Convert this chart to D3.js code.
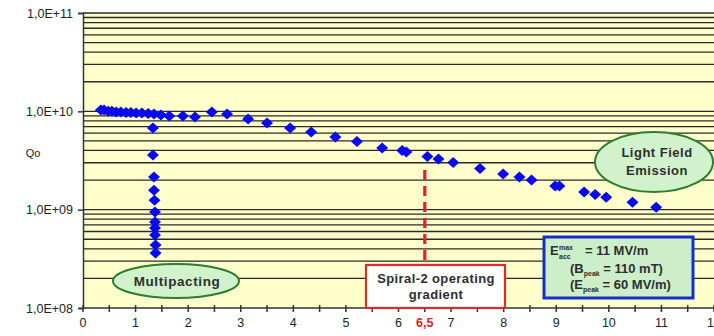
<!DOCTYPE html>
<html>
<head>
<meta charset="utf-8">
<script src="https://cdn.jsdelivr.net/npm/d3@7/dist/d3.min.js"></script>
<style>
  html, body { margin: 0; padding: 0; background: #ffffff; }
  svg { display: block; font-family: "Liberation Sans", Arial, sans-serif; }
</style>
</head>
<body>
<svg id="chart" width="714" height="336"></svg>
<script>
// Accelerating field (MV/m) and quality factor Qo of the cavity test
const fieldMain = [0.34, 0.40, 0.48, 0.55, 0.63, 0.72, 0.82, 0.91, 1.01, 1.12, 1.24, 1.35, 1.48, 1.64,
  1.90, 2.13, 2.45, 2.74, 3.14, 3.50, 3.94, 4.34, 4.80, 5.21, 5.69, 6.07, 6.15, 6.55, 6.76, 7.04,
  7.55, 7.99, 8.30, 8.53, 8.98, 9.06, 9.53, 9.74, 9.95, 10.45, 10.90];
const qoMain = [1.03e10, 1.03e10, 1.0e10, 1.0e10, 9.84e9, 9.84e9, 9.72e9, 9.72e9, 9.61e9, 9.61e9, 9.5e9, 9.39e9, 9.17e9, 8.96e9,
  8.96e9, 8.75e9, 9.84e9, 9.39e9, 8.35e9, 7.60e9, 6.76e9, 6.15e9, 5.47e9, 4.93e9, 4.23e9, 3.99e9, 3.85e9, 3.47e9, 3.27e9, 3.01e9,
  2.62e9, 2.30e9, 2.15e9, 2.00e9, 1.74e9, 1.74e9, 1.51e9, 1.43e9, 1.34e9, 1.19e9, 1.06e9];

// Multipacting barrier points around 1.35 MV/m
const fieldMP = [1.33, 1.33, 1.35, 1.35, 1.36, 1.37, 1.37, 1.37, 1.37, 1.38, 1.38];
const qoMP = [6.76e9, 3.59e9, 2.15e9, 1.58e9, 1.25e9, 9.46e8, 7.48e8, 6.50e8, 5.52e8, 4.37e8, 3.62e8];

const xTicks = [0, 1, 2, 3, 4, 5, 6, 7, 8, 9, 10, 11, 12];
const yTickLabels = ["1,0E+08", "1,0E+09", "1,0E+10", "1,0E+11"];
const yTicks = [1e8, 1e9, 1e10, 1e11];
const operatingGradient = 6.5;
const operatingLabel = "6,5";

const svg = d3.select("#chart");
const plotLeft = 83, plotRight = 714, plotTop = 13, plotBottom = 308;

const x = d3.scaleLinear().domain([0, 12]).range([plotLeft, plotRight]);
const y = d3.scaleLog().domain([1e8, 1e11]).range([plotBottom, plotTop]);

// plot background
svg.append("rect").attr("x", plotLeft).attr("y", plotTop)
  .attr("width", plotRight - plotLeft).attr("height", plotBottom - plotTop)
  .attr("fill", "#ffffcc");

// horizontal gridlines at every log step
const gridVals = [];
for (let e = 8; e < 11; e++) for (let m = 1; m < 10; m++) gridVals.push(m * Math.pow(10, e));
gridVals.push(1e11);
svg.append("g").selectAll("line").data(gridVals.filter(v => v > 1e8)).join("line")
  .attr("x1", plotLeft).attr("x2", plotRight)
  .attr("y1", d => y(d)).attr("y2", d => y(d))
  .attr("stroke", "#2a2a2a").attr("stroke-width", 1.3);

// y axis
const yAxis = d3.axisLeft(y).tickValues(yTicks)
  .tickFormat((d, i) => yTickLabels[i]).tickSize(5).tickPadding(5);
const gy = svg.append("g").attr("transform", `translate(${plotLeft},0)`).call(yAxis);
gy.select(".domain").attr("stroke", "#333").attr("stroke-width", 1.5);
gy.selectAll(".tick line").attr("stroke", "#333").attr("stroke-width", 1.5);
gy.selectAll(".tick text").attr("font-size", 12.5).attr("fill", "#222")
  .attr("font-family", "Liberation Sans, Arial, sans-serif");

// x axis with half-unit cross ticks
const halfTicks = d3.range(0, 12.01, 0.5);
const gx = svg.append("g");
gx.append("line").attr("x1", plotLeft).attr("x2", plotRight).attr("y1", plotBottom).attr("y2", plotBottom)
  .attr("stroke", "#333").attr("stroke-width", 1.5);
gx.selectAll("line.t").data(halfTicks).join("line").attr("class", "t")
  .attr("x1", d => x(d)).attr("x2", d => x(d))
  .attr("y1", plotBottom - 3).attr("y2", plotBottom + 4)
  .attr("stroke", "#333").attr("stroke-width", 1.5);
gx.selectAll("text").data(xTicks).join("text")
  .attr("x", d => x(d)).attr("y", 327)
  .attr("text-anchor", "middle").attr("font-size", 12.5).attr("fill", "#222")
  .text(d => d);

// y title
svg.append("text").attr("x", 33).attr("y", 157).attr("text-anchor", "middle")
  .attr("font-size", 11).attr("fill", "#222").text("Qo");

// operating gradient marker
svg.append("line").attr("x1", x(operatingGradient)).attr("x2", x(operatingGradient))
  .attr("y1", 170).attr("y2", 266)
  .attr("stroke", "#e3202a").attr("stroke-width", 3.2).attr("stroke-dasharray", "10,6");

// data markers (diamonds)
const diamond = "M0,-5.5L6,0L0,5.5L-6,0Z";
const pts = fieldMain.map((f, i) => [f, qoMain[i]])
  .concat(fieldMP.map((f, i) => [f, qoMP[i]]));
svg.append("g").selectAll("path").data(pts).join("path")
  .attr("d", diamond)
  .attr("transform", d => `translate(${x(d[0])},${y(d[1])})`)
  .attr("fill", "#0a0af0");

// annotations
const noteFill = "#d2f2cc", noteStroke = "#2c7d2c", textCol = "#2e2e2e";

svg.append("ellipse").attr("cx", 176).attr("cy", 281).attr("rx", 63).attr("ry", 17)
  .attr("fill", noteFill).attr("stroke", noteStroke).attr("stroke-width", 2);
svg.append("text").attr("x", 177).attr("y", 286).attr("text-anchor", "middle")
  .attr("font-size", 13.5).attr("font-weight", "bold").attr("letter-spacing", 0.6)
  .attr("fill", textCol).text("Multipacting");

svg.append("ellipse").attr("cx", 654).attr("cy", 162).attr("rx", 59).attr("ry", 30)
  .attr("fill", noteFill).attr("stroke", noteStroke).attr("stroke-width", 2);
svg.append("text").attr("x", 657).attr("y", 157).attr("text-anchor", "middle")
  .attr("font-size", 13).attr("font-weight", "bold").attr("letter-spacing", 0.5)
  .attr("fill", textCol).text("Light Field");
svg.append("text").attr("x", 657).attr("y", 175).attr("text-anchor", "middle")
  .attr("font-size", 13).attr("font-weight", "bold").attr("letter-spacing", 0.5)
  .attr("fill", textCol).text("Emission");

svg.append("rect").attr("x", 366).attr("y", 265).attr("width", 139).attr("height", 43)
  .attr("fill", "#ffffff").attr("stroke", "#e02a2a").attr("stroke-width", 2.2);
svg.append("text").attr("x", 436).attr("y", 283).attr("text-anchor", "middle")
  .attr("font-size", 13).attr("font-weight", "bold").attr("letter-spacing", 0.4)
  .attr("fill", textCol).text("Spiral-2 operating");
svg.append("text").attr("x", 436).attr("y", 299).attr("text-anchor", "middle")
  .attr("font-size", 13).attr("font-weight", "bold").attr("letter-spacing", 0.4)
  .attr("fill", textCol).text("gradient");

svg.append("text").attr("x", x(operatingGradient)).attr("y", 327).attr("text-anchor", "middle")
  .attr("font-size", 12.5).attr("font-weight", "bold").attr("fill", "#e3202a").text(operatingLabel);

// parameter box
svg.append("rect").attr("x", 544).attr("y", 237).attr("width", 149).attr("height", 61)
  .attr("fill", "#ccefca").attr("stroke", "#1530c8").attr("stroke-width", 3);
const bt = svg.append("g").attr("font-weight", "bold").attr("fill", textCol);
bt.append("text").attr("x", 550).attr("y", 255).attr("font-size", 13).text("E");
bt.append("text").attr("x", 559).attr("y", 250).attr("font-size", 7).text("max");
bt.append("text").attr("x", 559).attr("y", 259).attr("font-size", 7).text("acc");
bt.append("text").attr("x", 585).attr("y", 255).attr("font-size", 13).text("= 11 MV/m");
const l2 = bt.append("text").attr("x", 570).attr("y", 273).attr("font-size", 13);
l2.append("tspan").text("(B");
l2.append("tspan").attr("font-size", 7).attr("dy", 3).text("peak");
l2.append("tspan").attr("dy", -3).text(" = 110 mT)");
const l3 = bt.append("text").attr("x", 570).attr("y", 289).attr("font-size", 13);
l3.append("tspan").text("(E");
l3.append("tspan").attr("font-size", 7).attr("dy", 3).text("peak");
l3.append("tspan").attr("dy", -3).text(" = 60 MV/m)");
</script>
</body>
</html>
